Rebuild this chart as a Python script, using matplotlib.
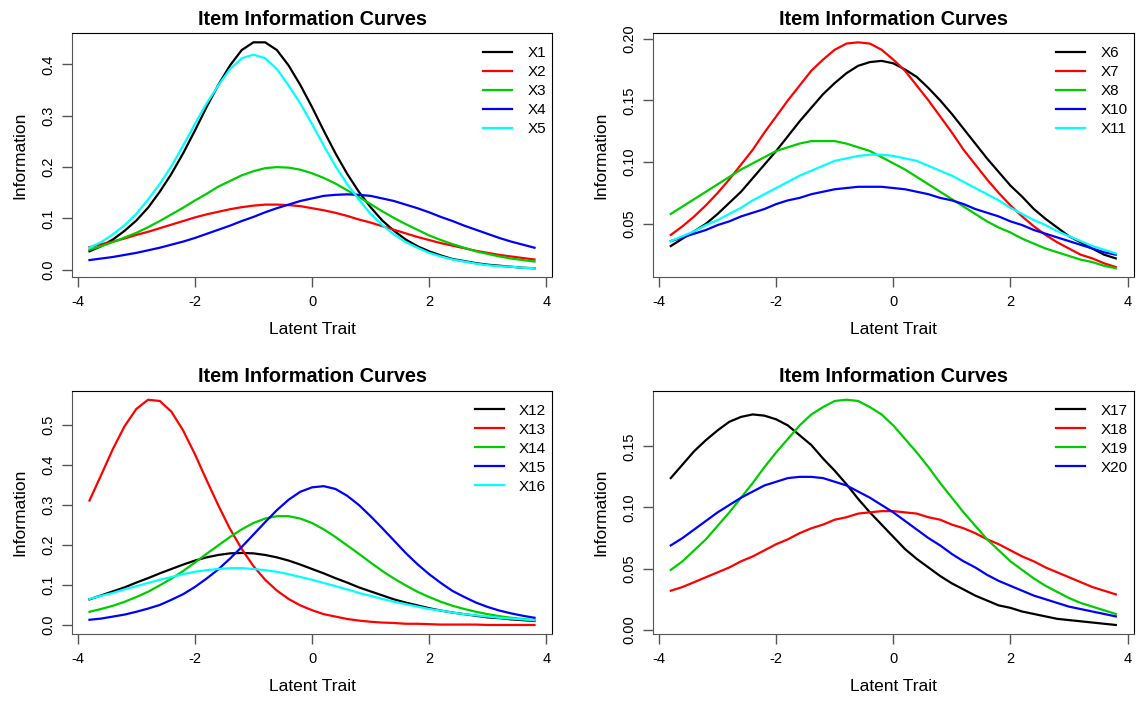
import matplotlib
matplotlib.use('Agg')
import matplotlib.pyplot as plt
import numpy as np

plt.rcParams['font.family'] = ['Liberation Sans', 'DejaVu Sans']

# latent trait grid (shared by every curve)
theta = [-3.8, -3.6, -3.4, -3.2, -3.0, -2.8, -2.6, -2.4, -2.2, -2.0,
         -1.8, -1.6, -1.4, -1.2, -1.0, -0.8, -0.6, -0.4, -0.2, 0.0,
         0.2, 0.4, 0.6, 0.8, 1.0, 1.2, 1.4, 1.6, 1.8, 2.0,
         2.2, 2.4, 2.6, 2.8, 3.0, 3.2, 3.4, 3.6, 3.8]

# panel 1
X1 = [0.036, 0.046, 0.059, 0.076, 0.096, 0.121, 0.152, 0.187, 0.227, 0.271,
      0.317, 0.360, 0.398, 0.428, 0.443, 0.443, 0.428, 0.398, 0.360, 0.317,
      0.271, 0.227, 0.187, 0.152, 0.122, 0.096, 0.076, 0.059, 0.046, 0.036,
      0.028, 0.021, 0.017, 0.013, 0.010, 0.008, 0.006, 0.004, 0.003]
X2 = [0.044, 0.050, 0.055, 0.061, 0.068, 0.074, 0.081, 0.088, 0.095, 0.102,
      0.108, 0.113, 0.118, 0.122, 0.125, 0.127, 0.127, 0.126, 0.124, 0.120,
      0.116, 0.111, 0.105, 0.098, 0.092, 0.085, 0.078, 0.071, 0.064, 0.058,
      0.052, 0.047, 0.042, 0.037, 0.033, 0.029, 0.026, 0.023, 0.020]
X3 = [0.039, 0.046, 0.054, 0.063, 0.072, 0.083, 0.095, 0.108, 0.121, 0.135,
      0.148, 0.162, 0.173, 0.184, 0.192, 0.198, 0.200, 0.199, 0.195, 0.188,
      0.179, 0.168, 0.155, 0.142, 0.128, 0.114, 0.101, 0.089, 0.078, 0.067,
      0.058, 0.050, 0.043, 0.036, 0.031, 0.026, 0.022, 0.019, 0.016]
X4 = [0.019, 0.022, 0.025, 0.029, 0.033, 0.038, 0.043, 0.049, 0.055, 0.062,
      0.070, 0.078, 0.086, 0.095, 0.103, 0.112, 0.120, 0.127, 0.134, 0.139,
      0.144, 0.146, 0.147, 0.146, 0.144, 0.139, 0.134, 0.127, 0.120, 0.112,
      0.103, 0.095, 0.086, 0.078, 0.070, 0.062, 0.055, 0.049, 0.043]
X5 = [0.043, 0.054, 0.069, 0.087, 0.109, 0.137, 0.167, 0.202, 0.242, 0.284,
      0.324, 0.359, 0.391, 0.412, 0.419, 0.412, 0.391, 0.359, 0.324, 0.284,
      0.242, 0.202, 0.167, 0.137, 0.109, 0.087, 0.069, 0.054, 0.043, 0.033,
      0.026, 0.020, 0.016, 0.012, 0.009, 0.007, 0.006, 0.004, 0.003]

# panel 2
X6 = [0.032, 0.038, 0.044, 0.050, 0.058, 0.067, 0.076, 0.087, 0.098, 0.109,
      0.121, 0.133, 0.144, 0.155, 0.164, 0.172, 0.178, 0.181, 0.182, 0.180,
      0.175, 0.169, 0.160, 0.150, 0.139, 0.127, 0.115, 0.103, 0.092, 0.081,
      0.072, 0.062, 0.054, 0.047, 0.040, 0.035, 0.030, 0.025, 0.022]
X7 = [0.041, 0.048, 0.056, 0.065, 0.075, 0.086, 0.098, 0.110, 0.124, 0.137,
      0.150, 0.162, 0.174, 0.183, 0.191, 0.196, 0.197, 0.196, 0.191, 0.183,
      0.174, 0.162, 0.150, 0.137, 0.124, 0.110, 0.098, 0.086, 0.075, 0.065,
      0.056, 0.048, 0.041, 0.035, 0.030, 0.025, 0.022, 0.018, 0.015]
X8 = [0.058, 0.064, 0.070, 0.076, 0.082, 0.088, 0.094, 0.099, 0.104, 0.109,
      0.112, 0.115, 0.117, 0.117, 0.117, 0.115, 0.112, 0.109, 0.104, 0.099,
      0.094, 0.088, 0.082, 0.076, 0.070, 0.064, 0.058, 0.052, 0.047, 0.043,
      0.038, 0.034, 0.030, 0.027, 0.024, 0.021, 0.019, 0.016, 0.014]
X10 = [0.036, 0.039, 0.042, 0.045, 0.049, 0.052, 0.056, 0.059, 0.062, 0.066,
       0.069, 0.071, 0.074, 0.076, 0.078, 0.079, 0.080, 0.080, 0.080, 0.079,
       0.078, 0.076, 0.074, 0.071, 0.069, 0.066, 0.062, 0.059, 0.056, 0.052,
       0.049, 0.045, 0.042, 0.039, 0.036, 0.033, 0.030, 0.027, 0.025]
X11 = [0.036, 0.040, 0.044, 0.049, 0.053, 0.058, 0.063, 0.069, 0.074, 0.079,
       0.084, 0.089, 0.093, 0.097, 0.101, 0.103, 0.105, 0.106, 0.106, 0.105,
       0.103, 0.101, 0.097, 0.093, 0.089, 0.084, 0.079, 0.074, 0.069, 0.063,
       0.058, 0.053, 0.049, 0.044, 0.040, 0.036, 0.032, 0.029, 0.026]

# panel 3
X12 = [0.064, 0.074, 0.084, 0.094, 0.106, 0.117, 0.129, 0.140, 0.151, 0.161,
       0.169, 0.175, 0.179, 0.180, 0.179, 0.175, 0.169, 0.161, 0.151, 0.140,
       0.129, 0.117, 0.106, 0.094, 0.084, 0.074, 0.064, 0.056, 0.049, 0.042,
       0.036, 0.031, 0.027, 0.023, 0.019, 0.017, 0.014, 0.012, 0.010]
X13 = [0.311, 0.375, 0.440, 0.497, 0.540, 0.563, 0.560, 0.533, 0.486, 0.427,
       0.362, 0.299, 0.240, 0.190, 0.147, 0.113, 0.086, 0.065, 0.049, 0.037,
       0.027, 0.021, 0.015, 0.011, 0.008, 0.006, 0.005, 0.003, 0.003, 0.002,
       0.001, 0.001, 0.001, 0.001, 0.000, 0.000, 0.000, 0.000, 0.000]
X14 = [0.033, 0.040, 0.048, 0.058, 0.070, 0.083, 0.099, 0.116, 0.135, 0.156,
       0.178, 0.199, 0.220, 0.239, 0.255, 0.266, 0.272, 0.272, 0.266, 0.255,
       0.239, 0.220, 0.199, 0.178, 0.156, 0.135, 0.116, 0.099, 0.083, 0.070,
       0.058, 0.048, 0.040, 0.033, 0.027, 0.022, 0.018, 0.015, 0.012]
X15 = [0.013, 0.016, 0.021, 0.026, 0.033, 0.041, 0.050, 0.063, 0.077, 0.095,
       0.116, 0.139, 0.166, 0.195, 0.226, 0.257, 0.287, 0.313, 0.333, 0.344,
       0.347, 0.340, 0.323, 0.300, 0.272, 0.242, 0.211, 0.180, 0.152, 0.127,
       0.105, 0.085, 0.070, 0.056, 0.045, 0.036, 0.029, 0.023, 0.018]
X16 = [0.065, 0.073, 0.080, 0.089, 0.097, 0.105, 0.113, 0.120, 0.127, 0.133,
       0.137, 0.140, 0.142, 0.142, 0.140, 0.137, 0.133, 0.127, 0.120, 0.113,
       0.105, 0.097, 0.089, 0.080, 0.073, 0.065, 0.058, 0.052, 0.046, 0.040,
       0.036, 0.031, 0.027, 0.024, 0.021, 0.018, 0.016, 0.014, 0.012]

# panel 4
X17 = [0.124, 0.135, 0.146, 0.155, 0.163, 0.170, 0.174, 0.176, 0.175, 0.172,
       0.167, 0.159, 0.151, 0.140, 0.130, 0.119, 0.107, 0.096, 0.086, 0.076,
       0.066, 0.058, 0.051, 0.044, 0.038, 0.033, 0.028, 0.024, 0.020, 0.018,
       0.015, 0.013, 0.011, 0.009, 0.008, 0.007, 0.006, 0.005, 0.004]
X18 = [0.032, 0.035, 0.039, 0.043, 0.047, 0.051, 0.056, 0.060, 0.065, 0.070,
       0.074, 0.079, 0.083, 0.086, 0.090, 0.092, 0.095, 0.096, 0.097, 0.097,
       0.096, 0.095, 0.092, 0.090, 0.086, 0.083, 0.079, 0.074, 0.070, 0.065,
       0.060, 0.056, 0.051, 0.047, 0.043, 0.039, 0.035, 0.032, 0.029]
X19 = [0.049, 0.056, 0.065, 0.074, 0.085, 0.096, 0.108, 0.120, 0.133, 0.145,
       0.156, 0.167, 0.176, 0.182, 0.187, 0.188, 0.187, 0.182, 0.176, 0.167,
       0.156, 0.145, 0.133, 0.120, 0.108, 0.096, 0.085, 0.074, 0.065, 0.056,
       0.049, 0.042, 0.036, 0.031, 0.026, 0.022, 0.019, 0.016, 0.013]
X20 = [0.069, 0.075, 0.082, 0.089, 0.096, 0.102, 0.108, 0.113, 0.118, 0.121,
       0.124, 0.125, 0.125, 0.124, 0.121, 0.118, 0.113, 0.108, 0.102, 0.096,
       0.089, 0.082, 0.075, 0.069, 0.062, 0.056, 0.051, 0.045, 0.040, 0.036,
       0.032, 0.028, 0.025, 0.022, 0.019, 0.017, 0.015, 0.013, 0.011]

panels = [
    (['X1', 'X2', 'X3', 'X4', 'X5'], [X1, X2, X3, X4, X5],
     [0.0, 0.1, 0.2, 0.3, 0.4], ['0.0', '0.1', '0.2', '0.3', '0.4']),
    (['X6', 'X7', 'X8', 'X10', 'X11'], [X6, X7, X8, X10, X11],
     [0.05, 0.10, 0.15, 0.20], ['0.05', '0.10', '0.15', '0.20']),
    (['X12', 'X13', 'X14', 'X15', 'X16'], [X12, X13, X14, X15, X16],
     [0.0, 0.1, 0.2, 0.3, 0.4, 0.5], ['0.0', '0.1', '0.2', '0.3', '0.4', '0.5']),
    (['X17', 'X18', 'X19', 'X20'], [X17, X18, X19, X20],
     [0.00, 0.05, 0.10, 0.15], ['0.00', '0.05', '0.10', '0.15']),
]

# R default palette
colors = ['black', '#FF0000', '#00CD00', '#0000FF', '#00FFFF']

# axes boxes [left, bottom, width, height] in figure fractions
boxes = [
    [0.0631, 0.6044, 0.4231, 0.3481],
    [0.5748, 0.6044, 0.4231, 0.3481],
    [0.0631, 0.0956, 0.4231, 0.3470],
    [0.5748, 0.0956, 0.4231, 0.3470],
]

fig = plt.figure(figsize=(11.36, 7.01), dpi=100)

for box, (names, series, yticks, ylabels) in zip(boxes, panels):
    ax = fig.add_axes(box)
    for i, (name, vals) in enumerate(zip(names, series)):
        ax.plot(theta, vals, color=colors[i], lw=1.6, label=name)

    # R style 4% padding
    allv = np.concatenate([np.array(s) for s in series])
    span = allv.max() - allv.min()
    ax.set_ylim(allv.min() - 0.04 * span, allv.max() + 0.04 * span)
    xspan = theta[-1] - theta[0]
    ax.set_xlim(theta[0] - 0.04 * xspan, theta[-1] + 0.04 * xspan)

    ax.set_xticks([-4, -2, 0, 2, 4])
    ax.set_xticklabels(['-4', '-2', '0', '2', '4'])
    ax.set_yticks(yticks)
    ax.set_yticklabels(ylabels, rotation=90, va='center')
    ax.tick_params(axis='both', direction='out', length=7, width=1,
                   color='#555555', labelsize=10.5)
    ax.tick_params(axis='x', pad=6)
    ax.tick_params(axis='y', pad=5)
    for side in ['left', 'bottom']:
        ax.spines[side].set_color('#555555')
    for side in ['top', 'right']:
        ax.spines[side].set_color('black')

    ax.set_title('Item Information Curves', fontsize=14.3, fontweight='bold', pad=6)
    ax.set_xlabel('Latent Trait', fontsize=12.5, labelpad=9)
    ax.set_ylabel('Information', fontsize=12.5, labelpad=10)

    ax.legend(loc='upper right', bbox_to_anchor=(1.0, 0.972), frameon=False,
              fontsize=11, handlelength=1.9, handletextpad=1.0,
              labelspacing=0.33, borderaxespad=0.0)

fig.savefig('out.png', dpi=100)
